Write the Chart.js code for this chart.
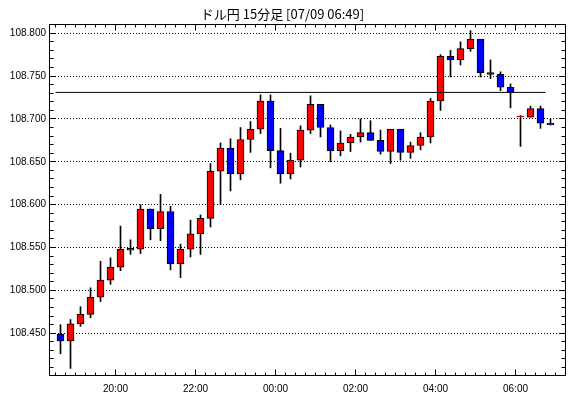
<!DOCTYPE html>
<html lang="ja">
<head>
<meta charset="UTF-8">
<title>ドル円 15分足</title>
<script src="https://cdn.jsdelivr.net/npm/chart.js"></script>
<style>
    body { margin: 0; background: #fff; }
    #chart { display: block; }
</style>
</head>
<body>
<canvas id="chart" width="570" height="398"></canvas>
<script>
    // 15 minute bars, start time of each bar
    const barTimes = ['18:30', '18:45', '19:00', '19:15', '19:30', '19:45', '20:00', '20:15', '20:30', '20:45',
                      '21:00', '21:15', '21:30', '21:45', '22:00', '22:15', '22:30', '22:45', '23:00', '23:15',
                      '23:30', '23:45', '00:00', '00:15', '00:30', '00:45', '01:00', '01:15', '01:30', '01:45',
                      '02:00', '02:15', '02:30', '02:45', '03:00', '03:15', '03:30', '03:45', '04:00', '04:15',
                      '04:30', '04:45', '05:00', '05:15', '05:30', '05:45', '06:00', '06:15', '06:30', '06:45'];
    const opens  = [108.449, 108.441, 108.461, 108.472, 108.492, 108.512, 108.527, 108.547, 108.548, 108.595,
                    108.572, 108.592, 108.531, 108.548, 108.566, 108.584, 108.639, 108.666, 108.636, 108.676,
                    108.688, 108.721, 108.663, 108.636, 108.652, 108.687, 108.717, 108.690, 108.663, 108.672,
                    108.679, 108.684, 108.675, 108.662, 108.688, 108.661, 108.669, 108.679, 108.721, 108.773,
                    108.769, 108.782, 108.793, 108.754, 108.752, 108.737, 108.7025, 108.702, 108.712, 108.695];
    const highs  = [108.460, 108.466, 108.481, 108.503, 108.534, 108.538, 108.575, 108.559, 108.600, 108.595,
                    108.612, 108.598, 108.554, 108.582, 108.588, 108.648, 108.672, 108.677, 108.690, 108.697,
                    108.728, 108.728, 108.689, 108.660, 108.692, 108.727, 108.717, 108.693, 108.686, 108.682,
                    108.700, 108.698, 108.687, 108.688, 108.688, 108.673, 108.684, 108.724, 108.775, 108.780,
                    108.790, 108.803, 108.793, 108.769, 108.755, 108.741, 108.704, 108.715, 108.715, 108.700];
    const lows   = [108.426, 108.409, 108.458, 108.468, 108.487, 108.507, 108.523, 108.542, 108.543, 108.559,
                    108.558, 108.524, 108.515, 108.539, 108.542, 108.574, 108.600, 108.616, 108.629, 108.661,
                    108.683, 108.643, 108.625, 108.630, 108.644, 108.683, 108.679, 108.650, 108.657, 108.662,
                    108.673, 108.675, 108.659, 108.648, 108.652, 108.654, 108.664, 108.672, 108.710, 108.749,
                    108.763, 108.779, 108.749, 108.747, 108.733, 108.713, 108.668, 108.702, 108.689, 108.693];
    const closes = [108.441, 108.461, 108.472, 108.492, 108.512, 108.527, 108.548, 108.549, 108.595, 108.572,
                    108.592, 108.531, 108.548, 108.566, 108.584, 108.639, 108.666, 108.636, 108.676, 108.688,
                    108.721, 108.663, 108.636, 108.652, 108.687, 108.717, 108.690, 108.663, 108.672, 108.679,
                    108.684, 108.675, 108.662, 108.688, 108.661, 108.669, 108.679, 108.721, 108.773, 108.769,
                    108.782, 108.793, 108.754, 108.752, 108.737, 108.731, 108.7035, 108.712, 108.695, 108.693];

    // horizontal reference line
    const refLevel = 108.731;
    const refFrom = '18:30';
    const refTo = '06:45';

    const yTicks = [108.45, 108.50, 108.55, 108.60, 108.65, 108.70, 108.75, 108.80];
    const xTickTimes = ['20:00', '22:00', '00:00', '02:00', '04:00', '06:00'];

    const upColor = '#ff0000';
    const downColor = '#0000ff';

    // hours counted from 18:00 so the night stays in order
    function toHours(t) {
        const [h, m] = t.split(':').map(Number);
        return ((h - 18 + 24) % 24) + m / 60;
    }
    const barMid = t => toHours(t) + 0.125;

    const bodies = barTimes.map((t, i) => ({ x: barMid(t), y: [opens[i], closes[i]] }));
    const wicks = barTimes.map((t, i) => ({ x: barMid(t), y: [lows[i], highs[i]] }));
    const bodyColors = barTimes.map((t, i) => closes[i] >= opens[i] ? upColor : downColor);

    // frame with inward tick marks on all four sides
    const frameTicks = {
        id: 'frameTicks',
        afterDatasetsDraw(chart) {
            const { ctx, chartArea: a, scales } = chart;
            const L = Math.floor(a.left) + 0.5, R = Math.floor(a.right) + 0.5;
            const T = Math.floor(a.top) + 0.5, B = Math.floor(a.bottom) + 0.5;
            ctx.save();
            ctx.strokeStyle = '#000';
            ctx.lineWidth = 1;
            ctx.strokeRect(L, T, R - L, B - T);
            ctx.beginPath();
            for (let h = 0.5; h <= 13.0; h += 0.25) {
                const px = Math.floor(scales.x.getPixelForValue(h)) + 0.5;
                const len = (Math.abs(h % 2) < 1e-6) ? 6 : 3;
                ctx.moveTo(px, B); ctx.lineTo(px, B - len);
                ctx.moveTo(px, T); ctx.lineTo(px, T + len);
            }
            for (let k = 41; k <= 81; k++) {
                const v = 108 + k / 100;
                const py = Math.floor(scales.y.getPixelForValue(v)) + 0.5;
                const len = (k % 5 === 0) ? 6 : 4;
                ctx.moveTo(L, py); ctx.lineTo(L + len, py);
                ctx.moveTo(R, py); ctx.lineTo(R - len, py);
            }
            ctx.stroke();
            ctx.restore();
        }
    };

    const labelFont = { family: '"Liberation Sans", Arial, sans-serif', size: 10 };

    new Chart(document.getElementById('chart'), {
        type: 'bar',
        data: {
            datasets: [
                {
                    type: 'line',
                    data: [{ x: toHours(refFrom), y: refLevel }, { x: toHours(refTo), y: refLevel }],
                    borderColor: '#000',
                    borderWidth: 1,
                    pointRadius: 0,
                    order: 0
                },
                {
                    data: bodies,
                    backgroundColor: bodyColors,
                    borderColor: '#000',
                    borderWidth: 1,
                    borderSkipped: false,
                    barThickness: 7,
                    grouped: false,
                    order: 1
                },
                {
                    data: wicks,
                    backgroundColor: '#000',
                    borderWidth: 0,
                    barThickness: 1,
                    grouped: false,
                    order: 2
                }
            ]
        },
        options: {
            responsive: false,
            animation: false,
            devicePixelRatio: 1,
            layout: { padding: { left: 0, right: 5, top: 0, bottom: 0 } },
            plugins: {
                legend: { display: false },
                tooltip: { enabled: false },
                title: {
                    display: true,
                    text: 'ドル円 15分足 [07/09 06:49]',
                    color: '#000',
                    font: { family: '"Noto Sans CJK JP", sans-serif', size: 13, weight: 'normal', lineHeight: 1.2 },
                    padding: { top: 6.2, bottom: 2.2 }
                }
            },
            scales: {
                x: {
                    type: 'linear',
                    offset: false,
                    min: 0.3375,
                    max: 13.2375,
                    grid: { display: false },
                    border: { display: false },
                    afterBuildTicks: s => { s.ticks = xTickTimes.map(t => ({ value: toHours(t) })); },
                    afterFit: s => { s.height = 23; },
                    ticks: {
                        autoSkip: false,
                        maxRotation: 0,
                        padding: 0,
                        color: '#000',
                        font: labelFont,
                        callback: (v, i) => xTickTimes[i]
                    }
                },
                y: {
                    min: 108.4013,
                    max: 108.8108,
                    grid: { color: '#000', lineWidth: 1, drawTicks: false },
                    border: { display: false, dash: [1, 2] },
                    afterBuildTicks: s => { s.ticks = yTicks.map(v => ({ value: v })); },
                    afterFit: s => { s.width = 49; },
                    ticks: {
                        padding: 3,
                        color: '#000',
                        font: labelFont,
                        callback: v => Number(v).toFixed(3)
                    }
                }
            }
        },
        plugins: [frameTicks]
    });
</script>
</body>
</html>
